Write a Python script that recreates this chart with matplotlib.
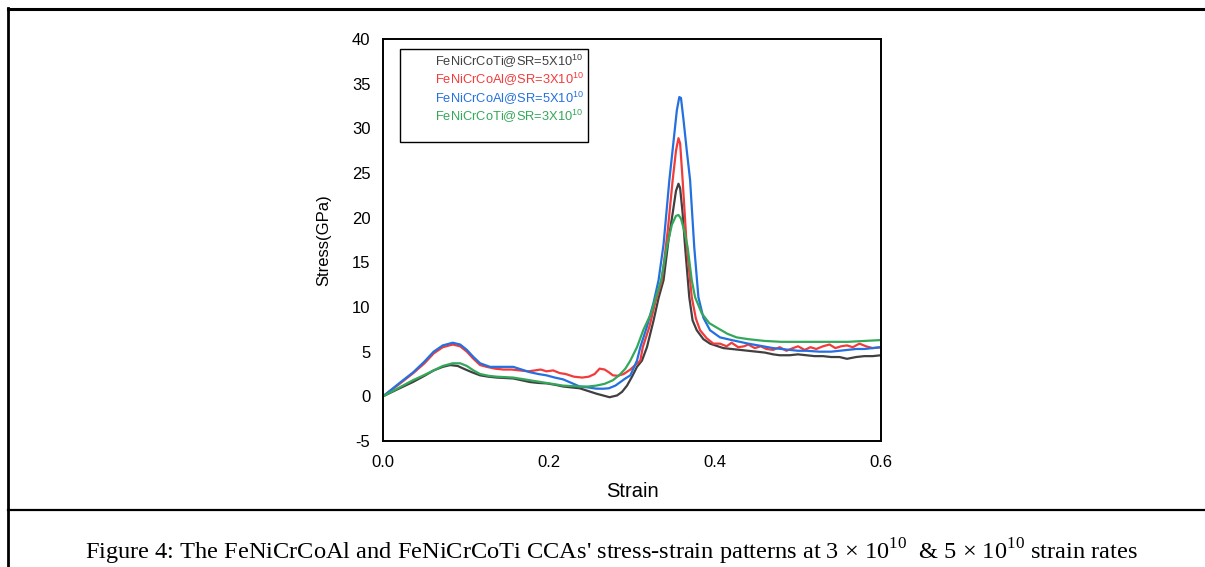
import matplotlib
matplotlib.use("Agg")
import matplotlib.pyplot as plt
from matplotlib.lines import Line2D
from matplotlib.patches import Rectangle

plt.rcParams['font.family'] = ['Liberation Sans', 'DejaVu Sans']
plt.rcParams['mathtext.fontset'] = 'custom'
plt.rcParams['mathtext.rm'] = 'Liberation Sans'
plt.rcParams['mathtext.sf'] = 'Liberation Serif'
plt.rcParams['axes.unicode_minus'] = False

# ---------------- data ----------------
series_labels = ["FeNiCrCoTi@SR=5X10", "FeNiCrCoAl@SR=3X10",
                 "FeNiCrCoAl@SR=5X10", "FeNiCrCoTi@SR=3X10"]
series_colors = ["#404040", "#f23b3b", "#2470e0", "#34a85a"]

ti5_strain = [0, 0.02, 0.036, 0.05, 0.061, 0.072, 0.081, 0.09, 0.097, 0.107, 0.117, 0.127,
              0.137, 0.147, 0.157, 0.167, 0.177, 0.187, 0.197, 0.207, 0.217, 0.227, 0.237,
              0.247, 0.257, 0.265, 0.273, 0.282, 0.288, 0.294, 0.300, 0.306, 0.312, 0.318,
              0.326, 0.332, 0.338, 0.344, 0.349, 0.353, 0.356, 0.358, 0.361, 0.364, 0.369,
              0.373, 0.378, 0.386, 0.394, 0.41, 0.42, 0.43, 0.44, 0.45, 0.46, 0.47, 0.478,
              0.49, 0.50, 0.51, 0.52, 0.53, 0.54, 0.55, 0.559, 0.57, 0.58, 0.59, 0.60]
ti5_stress = [0, 0.9, 1.6, 2.3, 2.9, 3.3, 3.5, 3.4, 3.1, 2.7, 2.35, 2.2,
              2.1, 2.05, 2.0, 1.8, 1.6, 1.5, 1.45, 1.3, 1.1, 1.0, 0.9,
              0.6, 0.3, 0.1, -0.1, 0.1, 0.5, 1.2, 2.2, 3.3, 4.0, 5.5,
              8.5, 11.0, 13.0, 17.5, 20.5, 23.0, 23.8, 23.3, 20.5, 16.7, 11.1,
              8.5, 7.4, 6.4, 5.9, 5.4, 5.3, 5.2, 5.1, 5.0, 4.9, 4.7, 4.6,
              4.6, 4.7, 4.6, 4.5, 4.5, 4.4, 4.4, 4.2, 4.4, 4.5, 4.5, 4.6]

al3_strain = [0, 0.02, 0.0365, 0.05, 0.061, 0.072, 0.084, 0.093, 0.101, 0.109, 0.117, 0.125,
              0.135, 0.145, 0.155, 0.165, 0.175, 0.183, 0.19, 0.197, 0.205, 0.213, 0.22,
              0.23, 0.24, 0.248, 0.255, 0.261, 0.267, 0.272, 0.277, 0.283, 0.29, 0.298,
              0.305, 0.31, 0.313, 0.321, 0.328, 0.336, 0.343, 0.349, 0.353, 0.356, 0.358,
              0.361, 0.366, 0.372, 0.377, 0.382, 0.39, 0.398, 0.406, 0.414, 0.42,
              0.428, 0.435, 0.44, 0.448, 0.455, 0.462, 0.47, 0.478, 0.486, 0.494, 0.50,
              0.508, 0.515, 0.522, 0.53, 0.538, 0.545, 0.552, 0.559, 0.566, 0.574, 0.582,
              0.59, 0.60]
al3_stress = [0, 1.4, 2.6, 3.7, 4.8, 5.5, 5.8, 5.6, 5.0, 4.2, 3.5, 3.3,
              3.1, 3.0, 3.0, 2.9, 2.8, 2.9, 3.0, 2.8, 2.9, 2.6, 2.5,
              2.2, 2.1, 2.2, 2.5, 3.1, 3.0, 2.7, 2.35, 2.3, 2.5, 3.0,
              3.6, 4.0, 5.5, 7.8, 10.5, 13.0, 18.5, 24.2, 27.5, 28.9, 28.3,
              24.2, 16.7, 11.1, 8.7, 7.4, 6.5, 5.9, 5.9, 5.6, 6.0,
              5.5, 5.6, 5.8, 5.4, 5.6, 5.3, 5.2, 5.5, 5.1, 5.4, 5.6,
              5.2, 5.5, 5.3, 5.6, 5.8, 5.4, 5.6, 5.7, 5.5, 5.9, 5.6,
              5.4, 5.5]

al5_strain = [0, 0.02, 0.0365, 0.05, 0.061, 0.072, 0.084, 0.093, 0.101, 0.109, 0.117, 0.129,
              0.143, 0.157, 0.167, 0.177, 0.187, 0.197, 0.207, 0.217, 0.227, 0.237, 0.247,
              0.257, 0.265, 0.272, 0.28, 0.286, 0.292, 0.298, 0.306, 0.31, 0.318, 0.326,
              0.332, 0.338, 0.345, 0.350, 0.354, 0.357, 0.359, 0.362, 0.366, 0.370, 0.375,
              0.380, 0.386, 0.394, 0.406, 0.42, 0.43, 0.44, 0.458, 0.47, 0.48, 0.49,
              0.50, 0.51, 0.526, 0.54, 0.55, 0.56, 0.57, 0.58, 0.59, 0.60]
al5_stress = [0, 1.5, 2.7, 3.9, 5.0, 5.7, 6.0, 5.8, 5.2, 4.4, 3.7, 3.3,
              3.3, 3.3, 3.0, 2.7, 2.5, 2.35, 2.1, 1.9, 1.5, 1.1, 1.0,
              0.86, 0.85, 0.9, 1.2, 1.6, 2.0, 2.35, 4.0, 5.5, 7.8, 10.5,
              13.0, 17.0, 24.2, 28.5, 32.0, 33.5, 33.4, 31.0, 27.5, 24.2, 16.7,
              11.1, 8.8, 7.4, 6.6, 6.3, 6.1, 5.9, 5.6, 5.4, 5.3, 5.2,
              5.1, 5.1, 5.0, 5.0, 5.1, 5.2, 5.3, 5.3, 5.4, 5.5]

ti3_strain = [0, 0.02, 0.036, 0.05, 0.061, 0.072, 0.084, 0.093, 0.101, 0.109, 0.117, 0.127,
              0.137, 0.147, 0.157, 0.167, 0.177, 0.187, 0.197, 0.207, 0.217, 0.227, 0.237,
              0.247, 0.257, 0.267, 0.277, 0.285, 0.292, 0.298, 0.306, 0.314, 0.323, 0.335,
              0.342, 0.348, 0.353, 0.356, 0.359, 0.363, 0.367, 0.372, 0.376, 0.384, 0.393,
              0.402, 0.415, 0.426, 0.44, 0.46, 0.48, 0.50, 0.52, 0.54, 0.56, 0.58, 0.60]
ti3_stress = [0, 1.0, 1.8, 2.4, 2.9, 3.4, 3.7, 3.7, 3.4, 2.9, 2.5, 2.3,
              2.2, 2.15, 2.1, 1.95, 1.8, 1.65, 1.5, 1.35, 1.2, 1.15, 1.1,
              1.1, 1.2, 1.4, 1.8, 2.4, 3.1, 4.0, 5.5, 7.5, 9.3, 13.0,
              16.7, 19.2, 20.2, 20.3, 19.9, 18.5, 16.7, 13.0, 11.1, 9.3, 8.2,
              7.7, 7.0, 6.6, 6.4, 6.2, 6.1, 6.1, 6.1, 6.1, 6.1, 6.2, 6.3]

x_ticks = [0.0, 0.2, 0.4, 0.6]
x_tick_labels = ["0.0", "0.2", "0.4", "0.6"]
y_ticks = [-5, 0, 5, 10, 15, 20, 25, 30, 35, 40]

caption = ("Figure 4: The FeNiCrCoAl and FeNiCrCoTi CCAs' stress-strain patterns at "
           "3 \u00d7 $\\mathsf{10}^{\\mathsf{10}}$  & 5 \u00d7 $\\mathsf{10}^{\\mathsf{10}}$ strain rates")

# ---------------- figure ----------------
fig = plt.figure(figsize=(12.05, 5.67), dpi=100)
ax = fig.add_axes([383 / 1205, 1 - 441 / 567, 498 / 1205, 402 / 567])

all_x = [ti5_strain, al3_strain, al5_strain, ti3_strain]
all_y = [ti5_stress, al3_stress, al5_stress, ti3_stress]
for xs, ys, c in zip(all_x, all_y, series_colors):
    ax.plot(xs, ys, color=c, lw=1.6, solid_joinstyle='round')

ax.set_xlim(0, 0.6)
ax.set_ylim(-5, 40)
ax.set_xticks(x_ticks)
ax.set_xticklabels(x_tick_labels)
ax.set_yticks(y_ticks)
ax.tick_params(length=0, labelsize=12)
ax.tick_params(axis='y', pad=9)
ax.tick_params(axis='x', pad=10)
for s in ax.spines.values():
    s.set_linewidth(1.4)
    s.set_color('black')
ax.set_xlabel("Strain", fontsize=14.5, labelpad=9)
ax.set_ylabel("Stress(GPa)", fontsize=12, labelpad=15)

# legend box (text-only entries)
ax.add_patch(Rectangle((0.034, 0.744), 0.378, 0.231, transform=ax.transAxes,
                       fill=True, facecolor='white', edgecolor='black', lw=1.0, zorder=5))
leg_y = [61, 79.5, 98, 116.5]
for lab, c, yp in zip(series_labels, series_colors, leg_y):
    ya = 1 - (yp - 39) / 402
    ax.text(0.104, ya, lab + "$^{10}$", color=c, fontsize=9.3, transform=ax.transAxes,
            va='center', ha='left', zorder=6)

# page frame lines
fig.add_artist(Line2D([8 / 1205, 1], [1 - 9 / 567, 1 - 9 / 567], color='black', lw=2.2,
                      transform=fig.transFigure))
fig.add_artist(Line2D([8 / 1205, 8 / 1205], [0, 1 - 8 / 567], color='black', lw=2.0,
                      transform=fig.transFigure))
fig.add_artist(Line2D([8 / 1205, 1], [1 - 510 / 567, 1 - 510 / 567], color='black', lw=1.6,
                      transform=fig.transFigure))

fig.text(611.5 / 1205, 1 - 552 / 567, caption, ha='center', va='center', fontsize=17.6,
         family=['Liberation Serif', 'DejaVu Serif'])

fig.savefig("out.png", dpi=100)
